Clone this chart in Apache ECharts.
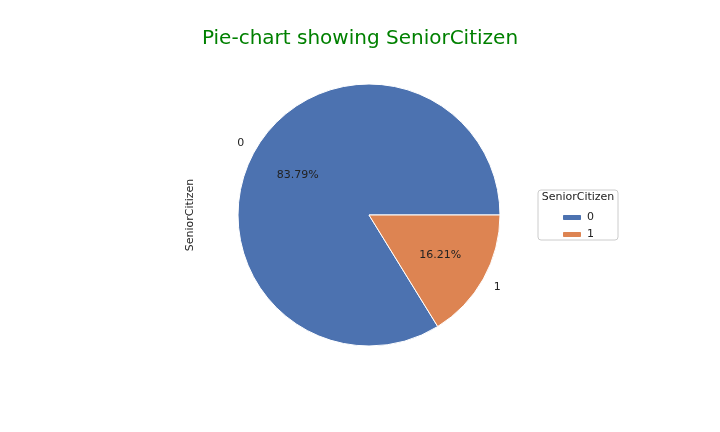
<html>
<head>
<meta charset="UTF-8">
<script src="https://cdn.jsdelivr.net/npm/echarts@6/dist/echarts.min.js"></script>
</head>
<body style="margin:0">
<div id="pie" style="width:720px;height:432px;"></div>
<script>
var categories = ['0', '1'];
var values = [83.79, 16.21];
var colors = ['#4c72b0', '#dd8452'];

var chart = echarts.init(document.getElementById('pie'), null, { renderer: 'canvas' });
var data = categories.map(function (c, i) {
    return { name: c, value: values[i], itemStyle: { color: colors[i] } };
});
var clear = categories.map(function (c, i) {
    return { name: c, value: values[i], itemStyle: { color: 'rgba(0,0,0,0)' } };
});
var font = 'DejaVu Sans, Arial, sans-serif';
var common = { type: 'pie', center: [369, 215], startAngle: 0, clockwise: false, animation: false, silent: true };

chart.setOption({
    title: { text: 'Pie-chart showing SeniorCitizen', left: 'center', top: 24,
        textStyle: { color: 'green', fontSize: 20, fontWeight: 'normal', fontFamily: font } },
    legend: { orient: 'vertical', left: 556, top: 207, itemWidth: 20, itemHeight: 7, itemGap: 6,
        textStyle: { fontSize: 11, color: '#222', fontFamily: font }, data: categories, selectedMode: false },
    graphic: [
        { type: 'rect', shape: { x: 538, y: 190, width: 80, height: 50, r: 3 },
          style: { fill: '#fff', stroke: '#ccc', lineWidth: 1 }, z: -1 },
        { type: 'text', x: 578, y: 192, style: { text: 'SeniorCitizen', fill: '#222', font: '11px ' + font, textAlign: 'center' } },
        { type: 'text', x: 190, y: 215, rotation: Math.PI / 2,
          style: { text: 'SeniorCitizen', fill: '#222', font: '11px ' + font, textAlign: 'center', textVerticalAlign: 'middle' } }
    ],
    series: [
        Object.assign({}, common, { radius: 131, data: data, label: { show: false },
            itemStyle: { borderColor: '#fff', borderWidth: 1 } }),
        Object.assign({}, common, { radius: [26, 131], data: clear,
            label: { position: 'inside', formatter: function (p) { return values[p.dataIndex].toFixed(2) + '%'; },
                color: '#222', fontSize: 11, fontFamily: font } }),
        Object.assign({}, common, { radius: [131, 157], data: clear,
            label: { position: 'inside', formatter: '{b}', color: '#222', fontSize: 11, fontFamily: font } })
    ]
});
</script>
</body>
</html>
